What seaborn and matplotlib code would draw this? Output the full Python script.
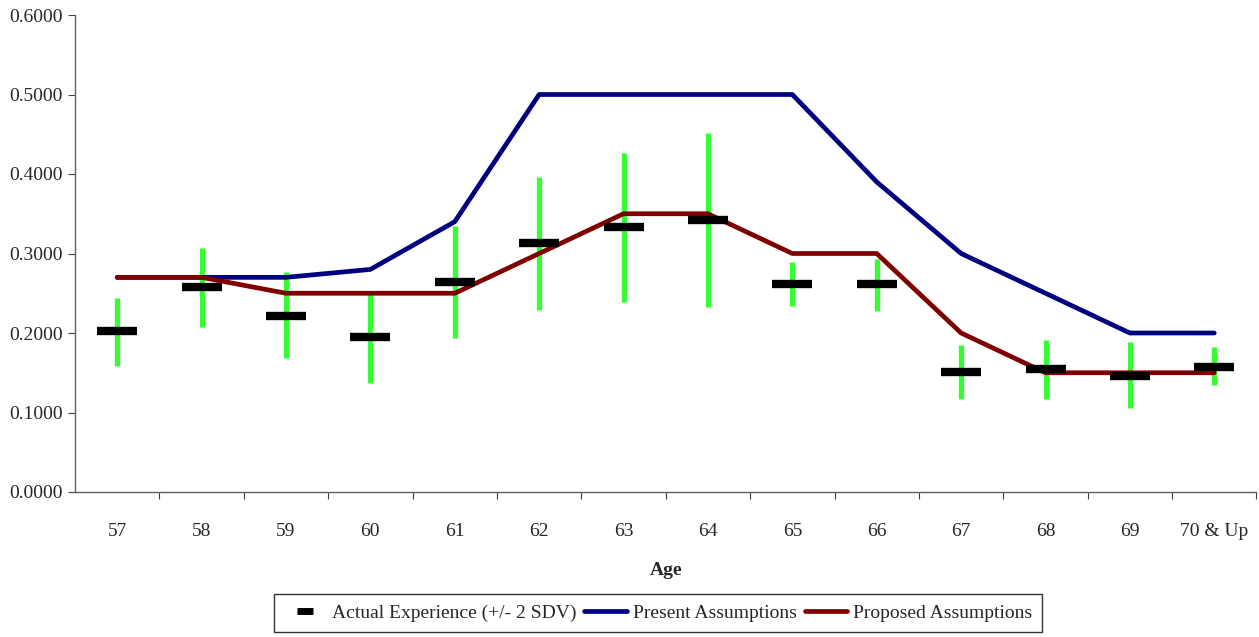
import numpy as np
import pandas as pd
import seaborn as sns
import matplotlib.pyplot as plt
from matplotlib.lines import Line2D

ages = ["57", "58", "59", "60", "61", "62", "63", "64", "65", "66", "67", "68", "69", "70 & Up"]
present = [0.27, 0.27, 0.27, 0.28, 0.34, 0.50, 0.50, 0.50, 0.50, 0.39, 0.30, 0.25, 0.20, 0.20]
proposed = [0.27, 0.27, 0.25, 0.25, 0.25, 0.30, 0.35, 0.35, 0.30, 0.30, 0.20, 0.15, 0.15, 0.15]
actual = [0.202, 0.258, 0.221, 0.195, 0.264, 0.313, 0.333, 0.342, 0.262, 0.262, 0.151, 0.155, 0.146, 0.157]
upper = [0.244, 0.307, 0.277, 0.252, 0.335, 0.396, 0.426, 0.451, 0.289, 0.293, 0.185, 0.191, 0.189, 0.182]
lower = [0.159, 0.208, 0.168, 0.137, 0.194, 0.229, 0.239, 0.233, 0.234, 0.228, 0.117, 0.117, 0.106, 0.135]

BLUE = "#000080"
RED = "#800000"
GREEN = "#33ff33"

sns.set_style("white")
plt.rcParams["font.family"] = ["Liberation Serif", "DejaVu Serif"]

x = np.arange(len(ages))
df = pd.DataFrame({
    "x": np.concatenate([x, x]),
    "value": present + proposed,
    "series": ["Present Assumptions"] * len(ages) + ["Proposed Assumptions"] * len(ages),
})

fig = plt.figure(figsize=(12.59, 6.37), dpi=100)
ax = fig.add_axes([75 / 1259, 1 - 492 / 637, 1 - 75 / 1259 - 0.002, 477 / 637])

# green +/- 2 SDV bars
ax.vlines(x, lower, upper, color=GREEN, linewidth=3.8, zorder=2)

sns.lineplot(data=df, x="x", y="value", hue="series",
             palette={"Present Assumptions": BLUE, "Proposed Assumptions": RED},
             linewidth=3.4, legend=False, ax=ax, zorder=3,
             solid_capstyle="round", solid_joinstyle="round")

# actual experience dashes
ax.plot(x, actual, linestyle="none", marker="_", markersize=29,
        markeredgewidth=6, color="black", zorder=4)

ax.set_xlim(-0.5, len(ages) - 0.5)
ax.set_ylim(0, 0.6)
ax.set_yticks(np.arange(0, 0.61, 0.1))
ax.set_yticklabels([f"{v:.4f}" for v in np.arange(0, 0.61, 0.1)])
ax.set_xticks(x)
ax.set_xticklabels(ages)
ax.set_xticks(np.arange(0.5, len(ages), 1), minor=True)
ax.tick_params(axis="x", which="major", length=0, pad=22, labelsize=14)
ax.tick_params(axis="x", which="minor", length=5, width=0.8, color="#404040", direction="out")
ax.tick_params(axis="y", length=5, width=0.8, color="#404040", direction="out", labelsize=14, pad=4)
ax.xaxis.set_tick_params(bottom=True, which="both")
ax.yaxis.set_tick_params(left=True)

ax.set_xlabel("Age", fontsize=14, fontweight="bold", labelpad=16)
ax.set_ylabel("")

for side in ["top", "right"]:
    ax.spines[side].set_visible(False)
for side in ["left", "bottom"]:
    ax.spines[side].set_color("#606060")
    ax.spines[side].set_linewidth(1.0)

handles = [
    Line2D([], [], linestyle="none", marker="_", markersize=12, markeredgewidth=5, color="black"),
    Line2D([], [], color=BLUE, linewidth=3.4),
    Line2D([], [], color=RED, linewidth=3.4),
]
labels = ["Actual Experience (+/- 2 SDV)", "Present Assumptions", "Proposed Assumptions"]
leg = fig.legend(handles, labels, loc="center", bbox_to_anchor=(658 / 1259, 1 - 613 / 637),
                 ncol=3, fontsize=14, frameon=True, fancybox=False, edgecolor="black",
                 handlelength=2.2, handletextpad=0.3, columnspacing=0.4, borderpad=0.5)
leg.get_frame().set_linewidth(1.0)

fig.savefig("out.png", dpi=100)
